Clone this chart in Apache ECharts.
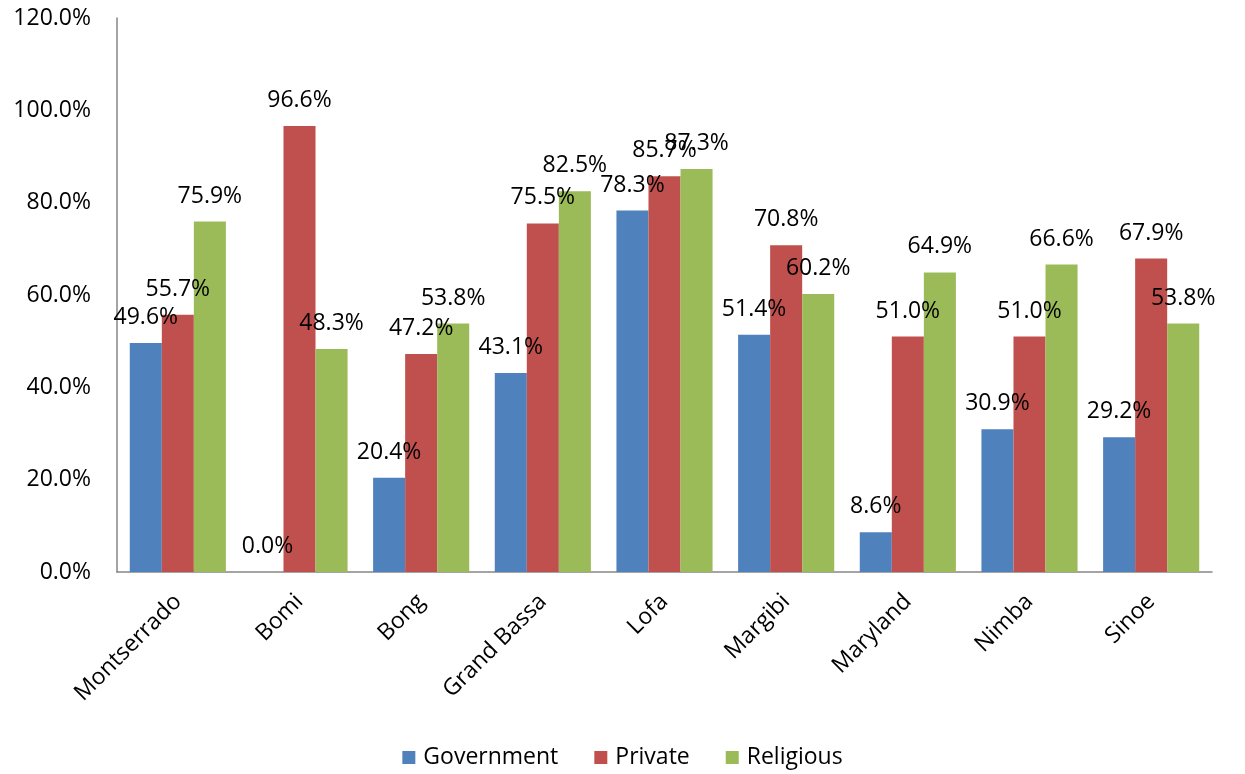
<!DOCTYPE html>
<html>
<head>
<meta charset="utf-8">
<script src="https://cdn.jsdelivr.net/npm/echarts@6/dist/echarts.min.js"></script>
<style>
  html, body { margin: 0; padding: 0; background: #fff; }
  #chart { width: 1245px; height: 774px; }
</style>
</head>
<body>
<div id="chart"></div>
<script>
// Datos
const counties = ['Montserrado', 'Bomi', 'Bong', 'Grand Bassa', 'Lofa', 'Margibi', 'Maryland', 'Nimba', 'Sinoe'];
const government = [49.6, 0.0, 20.4, 43.1, 78.3, 51.4, 8.6, 30.9, 29.2];
const privateSch = [55.7, 96.6, 47.2, 75.5, 85.7, 70.8, 51.0, 51.0, 67.9];
const religious = [75.9, 48.3, 53.8, 82.5, 87.3, 60.2, 64.9, 66.6, 53.8];

const fuente = '"Open Sans", "Noto Sans", sans-serif';
const tamano = 23;

function serie(nombre, datos, color) {
    return {
        name: nombre,
        type: 'bar',
        data: datos,
        barGap: '0%',
        barCategoryGap: '21%',
        itemStyle: { color: color },
        label: {
            show: true,
            position: 'top',
            distance: 14,
            color: '#000',
            fontFamily: fuente,
            fontSize: tamano,
            formatter: p => p.value.toFixed(1) + '%'
        }
    };
}

const grafico = echarts.init(document.getElementById('chart'));
grafico.setOption({
    animation: false,
    grid: { left: 117, right: 33, top: 18, bottom: 202 },
    legend: {
        bottom: 0,
        left: 'center',
        itemWidth: 13,
        itemHeight: 13,
        itemGap: 36,
        icon: 'rect',
        textStyle: { fontFamily: fuente, fontSize: tamano, color: '#000', padding: [0, 0, 0, 3] },
        data: ['Government', 'Private', 'Religious']
    },
    xAxis: {
        type: 'category',
        data: counties,
        axisLine: { lineStyle: { color: '#868686', width: 1.5 } },
        axisTick: { show: false },
        axisLabel: {
            rotate: 45,
            interval: 0,
            margin: 26,
            color: '#000',
            fontFamily: fuente,
            fontSize: tamano
        }
    },
    yAxis: {
        type: 'value',
        min: 0,
        max: 120,
        interval: 20,
        splitLine: { show: false },
        axisLine: { show: true, lineStyle: { color: '#868686', width: 1.5 } },
        axisTick: { show: false },
        axisLabel: {
            margin: 26,
            color: '#000',
            fontFamily: fuente,
            fontSize: tamano,
            formatter: v => v.toFixed(1) + '%'
        }
    },
    series: [
        serie('Government', government, '#4F81BD'),
        serie('Private', privateSch, '#C0504D'),
        serie('Religious', religious, '#9BBB59')
    ]
});
</script>
</body>
</html>
